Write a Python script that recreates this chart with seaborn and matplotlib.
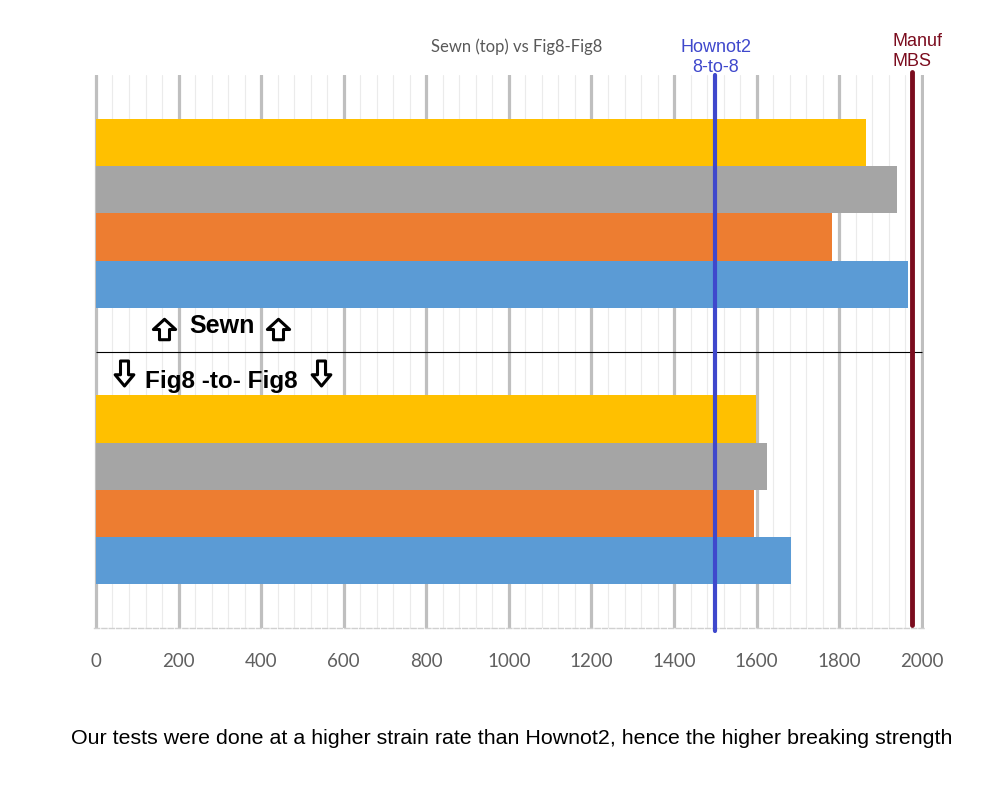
import matplotlib
matplotlib.use("Agg")
import matplotlib.pyplot as plt
from matplotlib.path import Path
import seaborn as sns
import pandas as pd

# dane
groups = ["Sewn", "Fig8"]
series = ["A", "B", "C", "D"]
sewn_vals = [1864, 1940, 1782, 1966]
fig8_vals = [1598, 1625, 1594, 1683]
colors = ["#FFC000", "#A5A5A5", "#ED7D31", "#5B9BD5"]
hownot2 = 1500
manuf_mbs = 1977
xticks = list(range(0, 2001, 200))

df = pd.DataFrame({
    "group": [g for g in groups for _ in series],
    "series": series * 2,
    "value": sewn_vals + fig8_vals,
})

sns.set_style("white")
plt.rcParams["font.family"] = ["Liberation Sans", "DejaVu Sans"]
plt.rcParams["text.color"] = "black"

fig = plt.figure(figsize=(10, 8), dpi=100)
ax = fig.add_axes([0.0935, 0.215, 0.8308, 0.691])

sns.barplot(data=df, x="value", y="group", hue="series", order=groups,
            hue_order=series, palette=colors, orient="h", width=0.684,
            saturation=1, legend=False, ax=ax, zorder=3, linewidth=0)

ax.set_xlim(-6, 2006)
ax.set_ylim(1.5, -0.5)
ax.set_xticks(xticks)
ax.set_xticks(range(0, 2001, 40), minor=True)
ax.grid(axis="x", which="major", color="#BFBFBF", lw=2.3, zorder=0)
ax.grid(axis="x", which="minor", color="#EBEBEB", lw=0.8, zorder=0)
ax.grid(axis="y", visible=False)
ax.set_yticks([])
ax.set_xlabel("")
ax.set_ylabel("")
for s in ["top", "left", "right"]:
    ax.spines[s].set_visible(False)
ax.spines["bottom"].set_color("#D0D0D0")
ax.spines["bottom"].set_linestyle("--")
ax.spines["bottom"].set_linewidth(1)
ax.tick_params(axis="x", which="both", length=0, pad=18)
for lbl in ax.get_xticklabels():
    lbl.set_family("Lato")
    lbl.set_fontsize(13.5)
    lbl.set_color("#606060")

# linia oddzielająca grupy
ax.hlines(0.5, 0, 2000, color="black", lw=0.8, zorder=4)

# linie odniesienia
ax.axvline(hownot2, ymin=-0.005, ymax=1, color="#3F48CC", lw=3, zorder=5, clip_on=False)
ax.axvline(manuf_mbs, ymin=0.005, ymax=1.005, color="#7B0C1E", lw=3.5, zorder=5, clip_on=False)
fig.text(0.7155, 0.941, "Hownot2", color="#3F48CC", fontsize=13, ha="center", va="center")
fig.text(0.7155, 0.916, "8-to-8", color="#3F48CC", fontsize=13, ha="center", va="center")
fig.text(0.892, 0.9475, "Manuf", color="#7B0C1E", fontsize=13, ha="left", va="center")
fig.text(0.892, 0.9225, "MBS", color="#7B0C1E", fontsize=13, ha="left", va="center")

# strzałki jako markery (obrys, białe wypełnienie)
up_arrow = Path([(0, 0.92), (1, 0), (0.45, 0), (0.45, -0.92), (-0.45, -0.92),
                 (-0.45, 0), (-1, 0), (0, 0.92)], closed=True)
down_arrow = Path([(0, -1), (0.75, -0.1), (0.32, -0.1), (0.32, 1), (-0.32, 1),
                   (-0.32, -0.1), (-0.75, -0.1), (0, -1)], closed=True)
ax.plot([165, 441], [0.42, 0.42], ls="none", marker=up_arrow, ms=16,
        mfc="white", mec="black", mew=2.2, zorder=6)
ax.plot([68, 545], [0.578, 0.578], ls="none", marker=down_arrow, ms=18,
        mfc="white", mec="black", mew=2.2, zorder=6)

ax.text(305, 0.408, "Sewn", fontsize=18, fontweight="bold", ha="center", va="center")
ax.text(303, 0.607, "Fig8 -to- Fig8", fontsize=17.5,
        fontweight="bold", ha="center", va="center")

fig.text(0.517, 0.941, "Sewn (top) vs Fig8-Fig8", fontsize=12, color="#595959",
         ha="center", va="center", family="Lato")
fig.text(0.512, 0.077, "Our tests were done at a higher strain rate than Hownot2, "
         "hence the higher breaking strength", fontsize=15.4, ha="center", va="center")

fig.savefig("out.png", dpi=100)
